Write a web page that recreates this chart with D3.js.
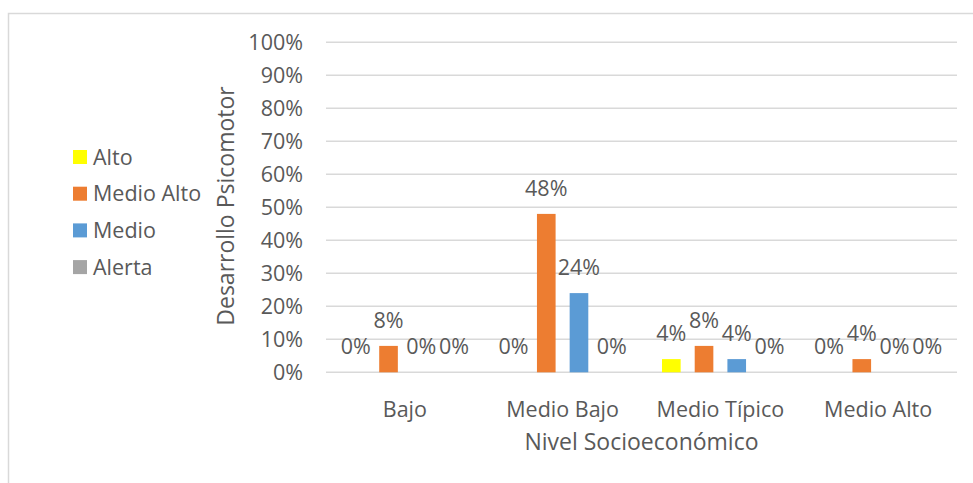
<!DOCTYPE html>
<html>
<head>
<meta charset="utf-8">
<script src="https://cdn.jsdelivr.net/npm/d3@7"></script>
<style>
  html, body { margin: 0; padding: 0; background: #fff; }
  svg { display: block; }
  text { font-family: "Open Sans", sans-serif; fill: #595959; }
</style>
</head>
<body>
<svg id="chart" width="973" height="483"></svg>
<script>
// Nivel socioeconómico vs. desarrollo psicomotor (porcentajes)
const categories = ["Bajo", "Medio Bajo", "Medio Típico", "Medio Alto"];
const seriesNames = ["Alto", "Medio Alto", "Medio", "Alerta"];
const seriesColors = ["#FFFF00", "#ED7D31", "#5B9BD5", "#A5A5A5"];
const altoValues = [0, 0, 4, 0];
const medioAltoValues = [8, 48, 8, 4];
const medioValues = [0, 24, 4, 0];
const alertaValues = [0, 0, 0, 0];
const yTicks = [0, 10, 20, 30, 40, 50, 60, 70, 80, 90, 100];
const xTitle = "Nivel Socioeconómico";
const yTitle = "Desarrollo Psicomotor";

const seriesValues = [altoValues, medioAltoValues, medioValues, alertaValues];
const FONT = "Open Sans";
const LABEL_SIZE = 21.5;
const TITLE_SIZE = 23;

const svg = d3.select("#chart");

// chart frame
svg.append("rect")
  .attr("x", 8.5).attr("y", 13.5)
  .attr("width", 975).attr("height", 480)
  .attr("fill", "none").attr("stroke", "#d9d9d9").attr("stroke-width", 1.5);

const plot = { left: 326, right: 957, top: 42.3, bottom: 372.3 };

const x0 = d3.scaleBand().domain(categories).range([plot.left, plot.right]).padding(0);
const x1 = d3.scaleBand().domain(seriesNames).range([0, x0.bandwidth()])
  .paddingInner(0.43).paddingOuter(0.627);
const y = d3.scaleLinear().domain([0, 100]).range([plot.bottom, plot.top]);

// gridlines
svg.append("g").selectAll("line").data(yTicks).join("line")
  .attr("x1", plot.left).attr("x2", plot.right)
  .attr("y1", d => y(d)).attr("y2", d => y(d))
  .attr("stroke", "#d9d9d9").attr("stroke-width", 1.5);

// y axis labels
const yAxis = d3.axisLeft(y).tickValues(yTicks).tickFormat(d => d + "%").tickSize(0).tickPadding(23);
const gy = svg.append("g").attr("transform", `translate(${plot.left},0)`).call(yAxis);
gy.select(".domain").remove();
gy.selectAll("text").attr("font-size", LABEL_SIZE).attr("font-family", FONT).attr("fill", "#595959");

// x axis labels
const xAxis = d3.axisBottom(x0).tickSize(0).tickPadding(0);
const gx = svg.append("g").attr("transform", `translate(0,${plot.bottom})`).call(xAxis);
gx.select(".domain").remove();
gx.selectAll("text").attr("font-size", LABEL_SIZE).attr("font-family", FONT).attr("fill", "#595959")
  .attr("dy", null).attr("y", 45);

// bars
const rows = categories.map((c, i) => ({
  cat: c,
  vals: seriesNames.map((s, j) => ({ name: s, color: seriesColors[j], value: seriesValues[j][i] }))
}));

const groups = svg.append("g").selectAll("g").data(rows).join("g")
  .attr("transform", d => `translate(${x0(d.cat)},0)`);

groups.selectAll("rect").data(d => d.vals).join("rect")
  .attr("x", d => x1(d.name))
  .attr("width", x1.bandwidth())
  .attr("y", d => y(d.value))
  .attr("height", d => y(0) - y(d.value))
  .attr("fill", d => d.color);

groups.selectAll("text.lbl").data(d => d.vals).join("text")
  .attr("class", "lbl")
  .attr("x", d => x1(d.name) + x1.bandwidth() / 2)
  .attr("y", d => y(d.value) - 18)
  .attr("text-anchor", "middle")
  .attr("font-size", LABEL_SIZE)
  .text(d => d.value + "%");

// axis titles
svg.append("text")
  .attr("x", (plot.left + plot.right) / 2).attr("y", 450)
  .attr("text-anchor", "middle").attr("font-size", TITLE_SIZE)
  .text(xTitle);

svg.append("text")
  .attr("transform", `translate(234,206) rotate(-90)`)
  .attr("text-anchor", "middle").attr("font-size", TITLE_SIZE)
  .text(yTitle);

// legend
const legend = svg.append("g").selectAll("g").data(seriesNames).join("g")
  .attr("transform", (d, i) => `translate(73,${157 + i * 36.7})`);
legend.append("rect")
  .attr("x", 0).attr("y", -7).attr("width", 14).attr("height", 14)
  .attr("fill", (d, i) => seriesColors[i]);
legend.append("text")
  .attr("x", 20).attr("y", 7.5)
  .attr("font-size", LABEL_SIZE)
  .text(d => d);
</script>
</body>
</html>
